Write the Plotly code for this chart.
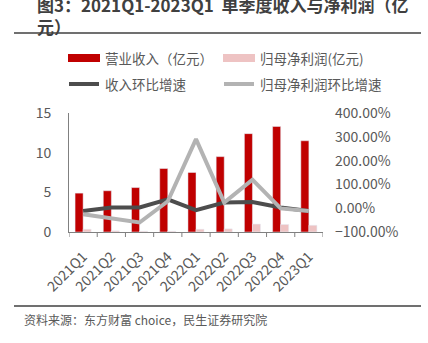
import plotly.graph_objects as go

quarters = ["2021Q1", "2021Q2", "2021Q3", "2021Q4", "2022Q1", "2022Q2", "2022Q3", "2022Q4", "2023Q1"]
revenue = [4.9, 5.2, 5.6, 8.0, 7.5, 9.5, 12.4, 13.3, 11.5]
net_profit = [0.35, 0.15, 0.1, 0.1, 0.35, 0.4, 1.0, 0.95, 0.85]
revenue_qoq = [-12, 3, 3, 37, -8, 24, 26, 3, -12]
profit_qoq = [-25, -43, -60, 29, 290, 24, 120, -1, -12]

FONT = "Noto Sans CJK SC"
TXT = "#595959"
RED = "#C00000"
PINK = "#EEC3C3"
DARK = "#4D4D4D"
LIGHT = "#B3B3B3"
AXIS = "#808080"

fig = go.Figure()
fig.add_trace(go.Bar(x=quarters, y=revenue, name="营业收入（亿元）", marker_color=RED, showlegend=False))
fig.add_trace(go.Bar(x=quarters, y=net_profit, name="归母净利润(亿元)", marker_color=PINK, showlegend=False))
fig.add_trace(go.Scatter(x=quarters, y=revenue_qoq, name="收入环比增速", yaxis="y2", mode="lines",
                         line=dict(color=DARK, width=4), showlegend=False))
fig.add_trace(go.Scatter(x=quarters, y=profit_qoq, name="归母净利润环比增速", yaxis="y2", mode="lines",
                         line=dict(color=LIGHT, width=4), showlegend=False))

L, R, T, B = 69, 105, 113, 111
W, H = 428, 343
pw, ph = W - L - R, H - T - B

def px(x):
    return (x - L) / pw

def py(y):
    return (H - B - y) / ph

shapes = []
annotations = []

# title (wraps to two lines, top partly cut as in the source)
annotations.append(dict(text="<b>图3：2021Q1-2023Q1  单季度收入与净利润（亿<br>元）</b>", x=px(35), y=py(-10),
                        xref="paper", yref="paper", xanchor="left", yanchor="top", align="left",
                        showarrow=False, font=dict(size=17, color="#404040", family=FONT)))
shapes.append(dict(type="line", xref="paper", yref="paper", x0=px(14), x1=px(421), y0=py(33), y1=py(33),
                   line=dict(color="#404040", width=1.5)))

# legend
legend_items = [
    ("营业收入（亿元）", "bar", RED, 68, 58),
    ("归母净利润(亿元)", "bar", PINK, 223, 58),
    ("收入环比增速", "line", DARK, 68, 84),
    ("归母净利润环比增速", "line", LIGHT, 223, 84),
]
for text, kind, color, x0, yc in legend_items:
    if kind == "bar":
        shapes.append(dict(type="rect", xref="paper", yref="paper", x0=px(x0), x1=px(x0 + 32),
                           y0=py(yc - 4), y1=py(yc + 4), fillcolor=color, line=dict(width=0)))
    else:
        shapes.append(dict(type="line", xref="paper", yref="paper", x0=px(x0 + 1), x1=px(x0 + 31),
                           y0=py(yc), y1=py(yc), line=dict(color=color, width=4)))
    annotations.append(dict(text=text, x=px(x0 + 35), y=py(yc), xref="paper", yref="paper",
                            xanchor="left", yanchor="middle", showarrow=False,
                            font=dict(size=13.5, color=TXT, family=FONT)))

# visible x tick marks at category boundaries
for i in range(len(quarters) + 1):
    shapes.append(dict(type="line", xref="x", yref="paper", x0=i - 0.5, x1=i - 0.5,
                       y0=0, y1=py(H - B + 5), line=dict(color=AXIS, width=1)))

# footer
shapes.append(dict(type="line", xref="paper", yref="paper", x0=px(14), x1=px(421), y0=py(306), y1=py(306),
                   line=dict(color="#404040", width=1.5)))
annotations.append(dict(text="资料来源：东方财富 choice，民生证券研究院", x=px(22), y=py(319), xref="paper", yref="paper",
                        xanchor="left", yanchor="middle", showarrow=False, font=dict(size=12, color=TXT, family=FONT)))

fig.update_layout(
    width=W, height=H,
    margin=dict(l=L, r=R, t=T, b=B, pad=0),
    paper_bgcolor="white", plot_bgcolor="white",
    font=dict(family=FONT, color=TXT, size=14),
    barmode="group", bargap=0.43, bargroupgap=0,
    shapes=shapes, annotations=annotations,
    xaxis=dict(type="category", showline=True, linecolor=AXIS, linewidth=1, range=[-0.5, len(quarters) - 0.5],
               ticks="outside", ticklen=10, tickcolor="rgba(0,0,0,0)",
               tickangle=-45, tickfont=dict(size=14, color=TXT), showgrid=False),
    yaxis=dict(range=[0, 15], dtick=5, showline=True, linecolor=AXIS, linewidth=1,
               showgrid=False, zeroline=False, ticks="", ticklabelstandoff=14,
               tickfont=dict(size=14, color=TXT)),
    yaxis2=dict(range=[-100, 400], dtick=100, overlaying="y", side="right", showline=False,
                showgrid=False, zeroline=False, ticks="", tickformat=".2f", ticksuffix="%",
                ticklabelstandoff=11, tickfont=dict(size=14, color=TXT)),
)

fig.write_html("out.html")
